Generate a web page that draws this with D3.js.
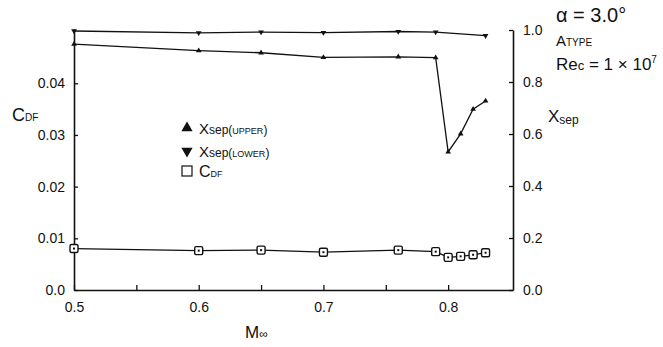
<!DOCTYPE html>
<html><head><meta charset="utf-8">
<script src="https://cdn.jsdelivr.net/npm/d3@7"></script>
<style>body{margin:0;background:#fff}svg{display:block}text{font-family:"Liberation Sans",Arial,sans-serif;fill:#111}</style>
</head><body><svg id="c" width="663" height="347"></svg>
<script>
// Data
const machUpper = [0.50, 0.60, 0.65, 0.70, 0.76, 0.79, 0.80, 0.81, 0.82, 0.83];
const xsepUpper = [0.949, 0.924, 0.916, 0.898, 0.900, 0.897, 0.533, 0.603, 0.698, 0.730];
const machLower = [0.50, 0.60, 0.65, 0.70, 0.76, 0.79, 0.83];
const xsepLower = [1.000, 0.993, 0.996, 0.994, 0.998, 0.996, 0.982];
const machCdf = [0.50, 0.60, 0.65, 0.70, 0.76, 0.79, 0.80, 0.81, 0.82, 0.83];
const cdfVals = [0.0080, 0.0076, 0.0077, 0.0073, 0.0077, 0.0074, 0.0063, 0.0065, 0.0068, 0.0072];
const xTicks = [0.5, 0.6, 0.7, 0.8];
const xTickLabels = ["0.5", "0.6", "0.7", "0.8"];
const xMinorTicks = [0.55, 0.65, 0.75];
const leftTicks = [0, 0.01, 0.02, 0.03, 0.04];
const leftTickLabels = ["0.0", "0.01", "0.02", "0.03", "0.04"];
const rightTicks = [0, 0.2, 0.4, 0.6, 0.8, 1.0];
const rightTickLabels = ["0.0", "0.2", "0.4", "0.6", "0.8", "1.0"];

const svg = d3.select("#c");
const x = d3.scaleLinear().domain([0.5, 0.852]).range([74, 513]);
const yL = d3.scaleLinear().domain([0, 0.05]).range([290, 31]);
const yR = d3.scaleLinear().domain([0, 1]).range([290, 31]);

function styleAxis(g){
  g.select(".domain").attr("stroke","#111").attr("stroke-width",1.6);
  g.selectAll(".tick line").attr("stroke","#111").attr("stroke-width",1.3);
  g.selectAll(".tick text").style("font-size","14px").attr("fill","#111");
}

// bottom axis
svg.append("g").attr("transform","translate(0,290)")
  .call(d3.axisBottom(x).tickValues(xTicks).tickFormat((d,i)=>xTickLabels[i]).tickSizeInner(-5).tickSizeOuter(0).tickPadding(12))
  .call(styleAxis);
svg.append("g").attr("transform","translate(0,290)")
  .call(d3.axisBottom(x).tickValues(xMinorTicks).tickFormat("").tickSizeInner(-5).tickSizeOuter(0))
  .call(g=>{g.select(".domain").remove();g.selectAll(".tick line").attr("stroke","#111").attr("stroke-width",1.3);});

// left axis
const yLAxisScale = yL.copy().domain([0,0.0505]).range([290,29]);
svg.append("g").attr("transform","translate(74,0)")
  .call(d3.axisLeft(yLAxisScale).tickValues(leftTicks).tickFormat((d,i)=>leftTickLabels[i]).tickSizeInner(-4).tickSizeOuter(0).tickPadding(9))
  .call(styleAxis);

// right axis
svg.append("g").attr("transform","translate(513,0)")
  .call(d3.axisRight(yR.copy().range([290,30])).tickValues(rightTicks).tickFormat((d,i)=>rightTickLabels[i]).tickSizeInner(-4).tickSizeOuter(0).tickPadding(10))
  .call(styleAxis);

const line = d3.line();
function drawLine(xs, ys, sc){
  svg.append("path").attr("d", line(xs.map((m,i)=>[x(m), sc(ys[i])])))
    .attr("fill","none").attr("stroke","#111").attr("stroke-width",1.3);
}
drawLine(machLower, xsepLower, yR);
drawLine(machUpper, xsepUpper, yR);
drawLine(machCdf, cdfVals, yL);

const triUp = d3.symbol().type(d3.symbolTriangle).size(14);
svg.selectAll(".tu").data(machUpper).join("path")
  .attr("d", triUp).attr("transform",(d,i)=>`translate(${x(d)},${yR(xsepUpper[i])})`).attr("fill","#111");
svg.selectAll(".td").data(machLower).join("path")
  .attr("d", triUp).attr("transform",(d,i)=>`translate(${x(d)},${yR(xsepLower[i])}) rotate(180)`).attr("fill","#111");
svg.selectAll(".sq").data(machCdf).join("g")
  .attr("transform",(d,i)=>`translate(${x(d)},${yL(cdfVals[i])})`)
  .each(function(){
    const g=d3.select(this);
    g.append("rect").attr("x",-4).attr("y",-4).attr("width",8).attr("height",8).attr("rx",1.5)
      .attr("fill","#fff").attr("stroke","#111").attr("stroke-width",1.4);
    g.append("rect").attr("x",-1).attr("y",-1).attr("width",2).attr("height",2).attr("fill","#111");
  });

// legend
const lg = svg.append("g");
lg.append("path").attr("d", d3.symbol().type(d3.symbolTriangle).size(55)).attr("transform","translate(187,128)").attr("fill","#111");
lg.append("path").attr("d", d3.symbol().type(d3.symbolTriangle).size(55)).attr("transform","translate(187,151) rotate(180)").attr("fill","#111");
lg.append("rect").attr("x",182).attr("y",166).attr("width",10).attr("height",10).attr("fill","none").attr("stroke","#111").attr("stroke-width",1.2);
function xsepText(y, sub){
  const t = lg.append("text").attr("x",199).attr("y",y).style("font-size","15px");
  t.append("tspan").text("X");
  t.append("tspan").text("sep(").style("font-size","12px");
  t.append("tspan").text(sub).style("font-size","9px");
  t.append("tspan").text(")").style("font-size","12px");
}
xsepText(134,"UPPER");
xsepText(157,"LOWER");
const ct = lg.append("text").attr("x",199).attr("y",177).style("font-size","16px");
ct.append("tspan").text("C");
ct.append("tspan").text("DF").style("font-size","9px");

// axis titles
const cl = svg.append("text").attr("x",12).attr("y",121).style("font-size","18px");
cl.append("tspan").text("C");
cl.append("tspan").text("DF").style("font-size","10px");
const xr = svg.append("text").attr("x",548).attr("y",122).style("font-size","17px");
xr.append("tspan").text("X");
xr.append("tspan").text("sep").style("font-size","12px").attr("dy",2);
const mt = svg.append("text").attr("x",245).attr("y",338).style("font-size","17px");
mt.append("tspan").text("M");
mt.append("tspan").text("∞").style("font-size","12px");

// annotation
svg.append("text").attr("x",556).attr("y",22).style("font-size","20px").text("α = 3.0°");
const at = svg.append("text").attr("x",556).attr("y",46).style("font-size","15px");
at.append("tspan").text("A");
at.append("tspan").text("TYPE").style("font-size","10px");
const rt = svg.append("text").attr("x",556).attr("y",70).style("font-size","17px");
rt.append("tspan").text("Re");
rt.append("tspan").text("c").style("font-size","13px");
rt.append("tspan").text(" = 1 × 10");
rt.append("tspan").text("7").style("font-size","10px").attr("dy",-7);
</script></body></html>
